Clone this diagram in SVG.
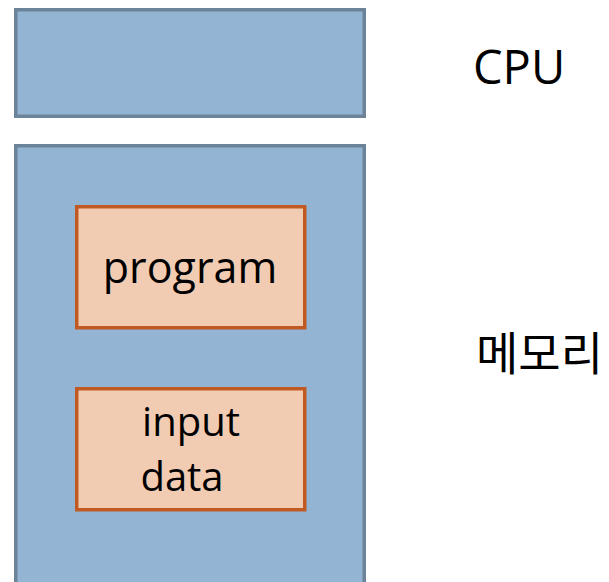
<svg xmlns="http://www.w3.org/2000/svg" width="609" height="582" viewBox="0 0 609 582">
<style>
.blue{fill:#93B4D2;stroke:#6C8499;stroke-width:3.5}
.org{fill:#F1CCB2;stroke:#C05A22;stroke-width:3.5}
.t{font-family:"Open Sans","Noto Sans CJK KR",sans-serif;fill:#000}
</style>
<rect width="609" height="582" fill="#fff"/>
<g id="cpu">
<rect class="blue" x="15.75" y="9.75" width="348.5" height="106.5"/>
</g>
<g id="memory">
<rect class="blue" x="15.75" y="145.75" width="348.5" height="450"/>
</g>
<g id="program">
<rect class="org" x="76.75" y="206.75" width="228" height="121"/>
<text class="t" x="190" y="283" font-size="43" text-anchor="middle">program</text>
</g>
<g id="input-data">
<rect class="org" x="76.75" y="388.75" width="228" height="121"/>
<text class="t" x="191" y="436" font-size="40" text-anchor="middle">input</text>
<text class="t" x="182" y="491" font-size="40" text-anchor="middle">data</text>
</g>
<g id="cpu-label">
<text class="t" x="473" y="84" font-size="47">CPU</text>
</g>
<g id="memory-label">
<text class="t" x="476" y="370" font-size="46">메모리</text>
</g>
<g id="connectors"></g>
</svg>
